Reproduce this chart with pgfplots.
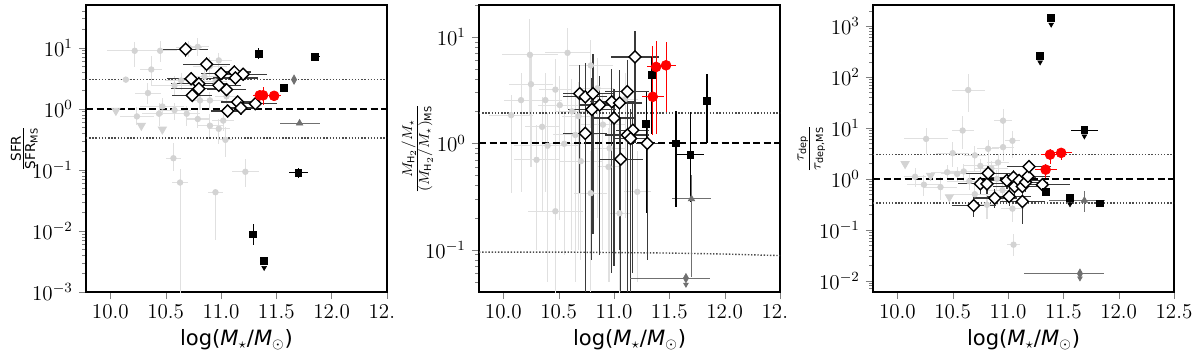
\documentclass[border=0pt]{standalone}
\usepackage{amsmath}
\usepackage{fontspec}
\setmainfont{DejaVu Sans}
\usepackage{pgfplots}
\usepackage{pgfplotstable}
\pgfplotsset{compat=1.18}
\definecolor{LGray}{HTML}{D3D3D3}
\definecolor{LGrayEb}{HTML}{E0E0E0}
\definecolor{DGray}{HTML}{3A3A3A}
\definecolor{MGray}{HTML}{707070}
\definecolor{MRed}{HTML}{FF0000}

\pgfplotsset{
  every axis/.append style={scale only axis,width=6.02cm,height=5.74cm,xmin=9.78,xmax=12.5,
    axis line style={line width=1.2pt},tick align=outside,xtick pos=left,ytick pos=left,
    xtick={10,10.5,11,11.5,12,12.5},
    tick label style={font=\fontsize{12}{14}\selectfont},
    major tick length=4pt,minor tick length=2.2pt,
    xlabel={log(\textit{M}$_\star$/\textit{M}$_\odot$)},
    xlabel style={font=\fontsize{12}{15}\selectfont,yshift=1pt},
    ylabel style={font=\fontsize{11}{13}\selectfont,at={(axis description cs:-0.205,0.5)},anchor=center}},
  ebars/.style={draw=none,mark=none,
    error bars/x dir=both,error bars/x explicit,error bars/y dir=both,error bars/y explicit,
    error bars/error mark=none,error bars/error bar style={#1}},
  grayeb/.style={ebars={draw=LGrayEb,line width=0.6pt}},
  graymk/.style={only marks,mark=*,mark size=1.6pt,color=LGray},
  diaeb/.style={ebars={draw=DGray,line width=0.7pt}},
  diamk/.style={only marks,mark=square*,mark size=2.4pt,mark options={rotate=45,fill=white,draw=black,line width=0.8pt}},
  sqeb/.style={ebars={draw=black,line width=0.6pt}},
  sqmk/.style={only marks,mark=square*,mark size=1.9pt,color=black},
  redeb/.style={ebars={draw=MRed,line width=0.6pt}},
  redmk/.style={only marks,mark=*,mark size=2.8pt,color=MRed},
  trieb/.style={ebars={draw=MGray,line width=0.6pt}},
  trimk/.style={only marks,mark=triangle*,mark size=2.1pt,color=MGray},
  tdmk/.style={only marks,mark=diamond*,mark size=2.6pt,mark options={xscale=0.75},color=MGray},
  ulbig/.style={only marks,mark=triangle*,mark size=2.7pt,mark options={rotate=180},color=LGray},
  ulsmall/.style={only marks,mark=triangle*,mark size=1.5pt,mark options={rotate=180},color=#1},
}

% ---------- panel 1: SFR / SFR_MS ----------
\pgfplotstableread{
x y xe yp ym
10.22 8.9 0.25 3.5 4.0
10.45 8.9 0.15 4.0 3.0
10.37 4.4 0.10 3.0 2.0
10.14 3.0 0.05 0.3 0.3
10.34 1.81 0.12 0.8 0.6
10.71 10.0 0.12 3.0 3.0
10.79 10.3 0.10 4.0 3.0
10.98 6.2 0.12 2.0 2.0
10.90 5.0 0.15 2.0 1.5
10.58 2.4 0.20 1.0 0.8
10.64 2.9 0.15 1.0 0.9
10.85 3.4 0.15 1.2 1.0
10.95 2.8 0.10 1.0 0.8
10.81 1.37 0.10 0.5 0.4
10.90 1.37 0.12 0.5 0.4
11.05 1.6 0.10 0.6 0.5
10.24 0.75 0.15 0.3 0.2
10.44 0.83 0.15 0.4 0.3
10.47 1.09 0.20 0.4 0.3
10.58 0.95 0.15 0.3 0.3
10.69 0.83 0.12 0.3 0.3
10.79 0.68 0.10 0.3 0.2
10.90 0.53 0.12 0.3 0.2
10.98 0.47 0.10 0.2 0.2
11.02 0.64 0.10 0.3 0.2
11.04 0.31 0.06 0.2 0.15
10.57 0.155 0.07 0.12 0.06
10.63 0.062 0.07 0.04 0.0612
11.22 0.093 0.12 0.06 0.04
10.95 0.043 0.07 0.0 0.036
}\grayA
\pgfplotstableread{
x y xe yp ym
10.68 9.45 0.20 3.0 2.5
10.87 5.35 0.21 1.8 1.4
11.00 3.76 0.18 1.0 0.8
11.12 4.00 0.15 1.2 1.0
11.20 3.67 0.22 1.0 0.8
11.13 3.19 0.20 0.9 0.7
10.73 3.11 0.22 0.9 0.7
10.80 2.57 0.25 0.7 0.6
10.98 2.42 0.20 0.7 0.5
10.80 2.13 0.25 0.6 0.5
11.05 2.05 0.18 0.6 0.5
10.74 1.66 0.18 0.4 0.35
11.15 1.29 0.15 0.35 0.3
11.31 1.21 0.20 0.3 0.25
11.18 1.03 0.15 0.3 0.25
11.06 0.92 0.15 0.25 0.2
}\diaA
\pgfplotstableread{
x y xe yp ym
11.34 8.0 0.03 1.8 1.5
11.85 7.07 0.04 0.8 0.6
11.57 2.19 0.03 0.4 0.3
11.70 0.089 0.09 0.02 0.015
11.29 0.0088 0.02 0.004 0.003
11.39 0.0032 0.01 0.0004 0.0003
}\sqA
\pgfplotstableread{
x y xe yp ym
11.35 1.66 0.06 0.4 0.3
11.38 1.66 0.05 0.6 0.5
11.48 1.63 0.06 0.3 0.2
}\redA

% ---------- panel 2: gas fraction ----------
\pgfplotstableread{
x y xe yp ym
10.24 6.8 0.25 8.0 5.0
10.58 7.1 0.20 5.0 5.0
10.25 3.6 0.20 3.0 3.0
10.47 3.2 0.15 3.0 2.8
10.79 5.4 0.20 4.0 4.0
10.16 2.55 0.15 2.0 2.2
10.38 2.55 0.15 2.0 2.2
10.51 2.29 0.20 2.0 2.1
10.07 1.84 0.20 1.0 1.5
10.35 1.43 0.15 1.3 1.2
10.55 0.99 0.20 1.0 0.9
10.30 0.70 0.20 0.8 0.6
10.70 0.68 0.20 1.0 0.6
10.79 0.34 0.15 0.5 0.3
10.47 0.23 0.25 0.4 0.2
11.21 0.35 0.12 0.5 0.3
11.05 0.22 0.10 0.3 0.2
10.95 0.60 0.10 0.8 0.55
10.62 2.0 0.15 2.0 1.9
10.85 3.3 0.15 3.0 3.1
10.90 1.5 0.20 1.5 1.4
10.68 1.8 0.15 2.0 1.7
11.10 2.6 0.12 2.0 2.4
10.96 0.9 0.15 1.0 0.85
10.40 0.95 0.30 1.0 0.9
10.65 1.2 0.20 1.5 1.15
}\grayB
\pgfplotstableread{
x y xe yp ym
11.19 6.5 0.22 5.0 5.5
10.69 2.94 0.15 2.5 2.6
10.74 2.74 0.20 3.0 2.6
10.81 2.94 0.20 4.0 2.8
10.87 2.29 0.18 2.0 2.2
10.80 2.08 0.22 2.0 2.0
10.98 2.46 0.20 2.5 2.4
11.05 2.40 0.20 2.5 2.3
11.12 3.07 0.20 3.0 2.95
11.00 1.73 0.18 1.5 1.66
10.74 1.24 0.20 1.2 1.20
11.17 1.33 0.15 1.0 1.27
11.12 1.20 0.20 1.0 1.16
11.15 1.11 0.15 1.0 1.07
11.30 1.00 0.10 0.5 0.92
11.06 0.71 0.20 1.0 0.67
}\diaB
\pgfplotstableread{
x y xe yp ym
11.34 4.43 0.02 2.0 3.2
11.29 1.52 0.02 1.5 1.3
11.56 1.00 0.02 1.0 0.75
11.69 0.78 0.12 1.2 0.5
11.84 2.51 0.03 2.0 1.5
}\sqB
\pgfplotstableread{
x y xe yp ym
11.38 5.23 0.08 4.0 4.0
11.47 5.42 0.09 3.5 3.45
11.35 2.74 0.10 5.5 1.55
}\redB

% ---------- panel 3: depletion time ----------
\pgfplotstableread{
x y xe yp ym
10.64 55.6 0.15 60 35
10.955 13.9 0.08 10 7
10.59 8.9 0.10 8 5
10.26 6.1 0.20 4 3
11.04 5.6 0.07 3 3
10.955 4.2 0.10 3 2
10.82 3.9 0.10 2 2
10.50 3.2 0.15 2 1.5
10.70 2.9 0.10 1.5 1.5
10.91 2.1 0.10 1 1
10.16 1.1 0.10 0.5 0.4
10.24 0.77 0.15 0.4 0.3
10.39 0.69 0.15 0.4 0.3
10.45 1.35 0.15 0.5 0.4
10.54 1.25 0.15 0.5 0.4
10.81 0.31 0.10 0.2 0.15
11.04 0.26 0.10 0.2 0.12
11.05 0.051 0.06 0.03 0.02
10.60 1.4 0.15 0.6 0.5
10.75 1.8 0.15 0.7 0.6
10.85 1.6 0.15 0.6 0.5
10.90 1.0 0.15 0.5 0.4
10.65 0.9 0.20 0.4 0.3
10.95 0.6 0.15 0.3 0.25
10.70 0.5 0.20 0.3 0.2
}\grayC
\pgfplotstableread{
x y xe yp ym
10.69 0.30 0.20 0.10 0.12
10.75 0.80 0.20 0.30 0.30
10.81 0.80 0.20 0.30 0.30
10.82 1.29 0.20 0.50 0.40
10.88 0.42 0.20 0.20 0.15
10.99 0.93 0.20 0.30 0.30
11.01 0.45 0.20 0.20 0.15
11.05 1.07 0.20 0.40 0.30
11.06 0.71 0.20 0.30 0.25
11.10 0.93 0.20 0.30 0.30
11.13 0.71 0.20 0.25 0.25
11.13 0.36 0.20 0.20 0.23
11.16 0.86 0.20 0.30 0.30
11.18 1.12 0.20 0.40 0.35
11.19 1.74 0.20 0.50 0.40
11.31 0.77 0.25 0.20 0.20
}\diaC
\pgfplotstableread{
x y xe yp ym
11.39 1436 0.01 0 0
11.29 262 0.01 0 0
11.69 9.1 0.12 0 0
11.34 0.55 0.01 0.05 0.05
11.56 0.42 0.01 0 0
11.83 0.33 0.03 0.02 0.02
}\sqC
\pgfplotstableread{
x y xe yp ym
11.38 3.0 0.08 0.8 1.0
11.48 3.24 0.10 0.6 0.9
11.34 1.52 0.10 0.4 0.5
}\redC

\begin{document}
\begin{tikzpicture}
\path[use as bounding box] (-1.72cm,-1.22cm) rectangle (22.28cm,5.84cm);

% ===== panel 1 =====
\begin{axis}[at={(0cm,0cm)},ymode=log,ymin=1e-3,ymax=50,
  minor ytick={0.002,0.003,0.004,0.005,0.006,0.007,0.008,0.009,0.02,0.03,0.04,0.05,0.06,0.07,0.08,0.09,0.2,0.3,0.4,0.5,0.6,0.7,0.8,0.9,2,3,4,5,6,7,8,9,20,30,40},
  xticklabels={$10.0$,$10.5$,$11.0$,$11.5$,$12.0$,$12.\phantom{5}$},
  ylabel={$\frac{\text{SFR}}{\text{SFR}_{\text{MS}}}$}]
\addplot[grayeb] table[x=x,y=y,x error=xe,y error plus=yp,y error minus=ym]{\grayA};
\addplot[graymk] table[x=x,y=y]{\grayA};
\addplot[ulbig] coordinates {(10.05,0.93) (10.28,0.53) (10.47,0.46)};
\addplot[black,dashed,line width=1pt,dash pattern=on 4pt off 2pt] coordinates {(9.78,1) (12.5,1)};
\addplot[black!70,densely dotted,line width=0.8pt] coordinates {(9.78,3) (12.5,3)};
\addplot[black!70,densely dotted,line width=0.8pt] coordinates {(9.78,0.333) (12.5,0.333)};
\addplot[diaeb] table[x=x,y=y,x error=xe,y error plus=yp,y error minus=ym]{\diaA};
\addplot[diamk] table[x=x,y=y]{\diaA};
\addplot[trieb] coordinates {(11.71,0.58) +- (0.18,0)};
\addplot[trimk] coordinates {(11.71,0.58)};
\addplot[tdmk] coordinates {(11.66,3.0)};
\addplot[sqeb] table[x=x,y=y,x error=xe,y error plus=yp,y error minus=ym]{\sqA};
\addplot[sqmk] table[x=x,y=y]{\sqA};
\addplot[ulsmall=black] coordinates {(11.39,0.0025)};
\addplot[redeb] table[x=x,y=y,x error=xe,y error plus=yp,y error minus=ym]{\redA};
\addplot[redmk] table[x=x,y=y]{\redA};
\end{axis}

% ===== panel 2 =====
\begin{axis}[at={(7.86cm,0cm)},ymode=log,ymin=0.04,ymax=20,
  minor ytick={0.05,0.06,0.07,0.08,0.09,0.2,0.3,0.4,0.5,0.6,0.7,0.8,0.9,2,3,4,5,6,7,8,9,20},
  xticklabels={$10.0$,$10.5$,$11.0$,$11.5$,$12.0$,$12.\phantom{5}$},
  ylabel={$\frac{M_{\mathrm{H}_2}/M_\star}{(M_{\mathrm{H}_2}/M_\star)_{\text{MS}}}$}]
\addplot[grayeb] table[x=x,y=y,x error=xe,y error plus=yp,y error minus=ym]{\grayB};
\addplot[graymk] table[x=x,y=y]{\grayB};
\addplot[black,dashed,line width=1pt,dash pattern=on 4pt off 2pt] coordinates {(9.78,1) (12.5,1)};
\addplot[black!70,densely dotted,line width=0.8pt] coordinates {(9.78,1.93) (12.5,1.93)};
\addplot[black!70,densely dotted,line width=0.8pt] coordinates {(9.78,0.095) (10.5,0.095) (11.0,0.094) (11.5,0.093) (12.0,0.091) (12.5,0.088)};
\addplot[diaeb] table[x=x,y=y,x error=xe,y error plus=yp,y error minus=ym]{\diaB};
\addplot[diamk] table[x=x,y=y]{\diaB};
\addplot[trieb] coordinates {(11.70,0.30) += (0.18,0.2) -= (0.18,0.245)};
\addplot[trimk] coordinates {(11.70,0.30)};
\addplot[trieb] coordinates {(11.65,0.054) += (0.22,0) -= (0.51,0)};
\addplot[tdmk] coordinates {(11.65,0.054)};
\addplot[ulsmall=MGray] coordinates {(11.65,0.047)};
\addplot[sqeb] table[x=x,y=y,x error=xe,y error plus=yp,y error minus=ym]{\sqB};
\addplot[sqmk] table[x=x,y=y]{\sqB};
\addplot[redeb] table[x=x,y=y,x error=xe,y error plus=yp,y error minus=ym]{\redB};
\addplot[redmk] table[x=x,y=y]{\redB};
\end{axis}

% ===== panel 3 =====
\begin{axis}[at={(15.74cm,0cm)},ymode=log,ymin=0.006,ymax=2600,
  minor ytick={0.007,0.008,0.009,0.02,0.03,0.04,0.05,0.06,0.07,0.08,0.09,0.2,0.3,0.4,0.5,0.6,0.7,0.8,0.9,2,3,4,5,6,7,8,9,20,30,40,50,60,70,80,90,200,300,400,500,600,700,800,900,2000},
  xticklabels={$10.0$,$10.5$,$11.0$,$11.5$,$12.0$,$12.5$},
  ylabel={$\frac{\tau_{\text{dep}}}{\tau_{\text{dep,MS}}}$}]
\addplot[grayeb] table[x=x,y=y,x error=xe,y error plus=yp,y error minus=ym]{\grayC};
\addplot[graymk] table[x=x,y=y]{\grayC};
\addplot[ulbig] coordinates {(10.07,1.97) (10.30,1.16) (10.47,0.44)};
\addplot[black,dashed,line width=1pt,dash pattern=on 4pt off 2pt] coordinates {(9.78,1) (12.5,1)};
\addplot[black!70,densely dotted,line width=0.8pt] coordinates {(9.78,3) (12.5,3)};
\addplot[black!70,densely dotted,line width=0.8pt] coordinates {(9.78,0.333) (12.5,0.333)};
\addplot[diaeb] table[x=x,y=y,x error=xe,y error plus=yp,y error minus=ym]{\diaC};
\addplot[diamk] table[x=x,y=y]{\diaC};
\addplot[trieb] coordinates {(11.69,0.376) += (0.19,0.2) -= (0.32,0.15)};
\addplot[trimk] coordinates {(11.69,0.376)};
\addplot[trieb] coordinates {(11.65,0.0138) += (0.22,0) -= (0.51,0)};
\addplot[tdmk] coordinates {(11.65,0.0138)};
\addplot[ulsmall=MGray] coordinates {(11.65,0.0112)};
\addplot[sqeb] table[x=x,y=y,x error=xe,y error plus=yp,y error minus=ym]{\sqC};
\addplot[sqmk] table[x=x,y=y]{\sqC};
\addplot[ulsmall=black] coordinates {(11.39,1080) (11.29,196) (11.69,6.9) (11.56,0.32)};
\addplot[redeb] table[x=x,y=y,x error=xe,y error plus=yp,y error minus=ym]{\redC};
\addplot[redmk] table[x=x,y=y]{\redC};
\end{axis}
\end{tikzpicture}
\end{document}
